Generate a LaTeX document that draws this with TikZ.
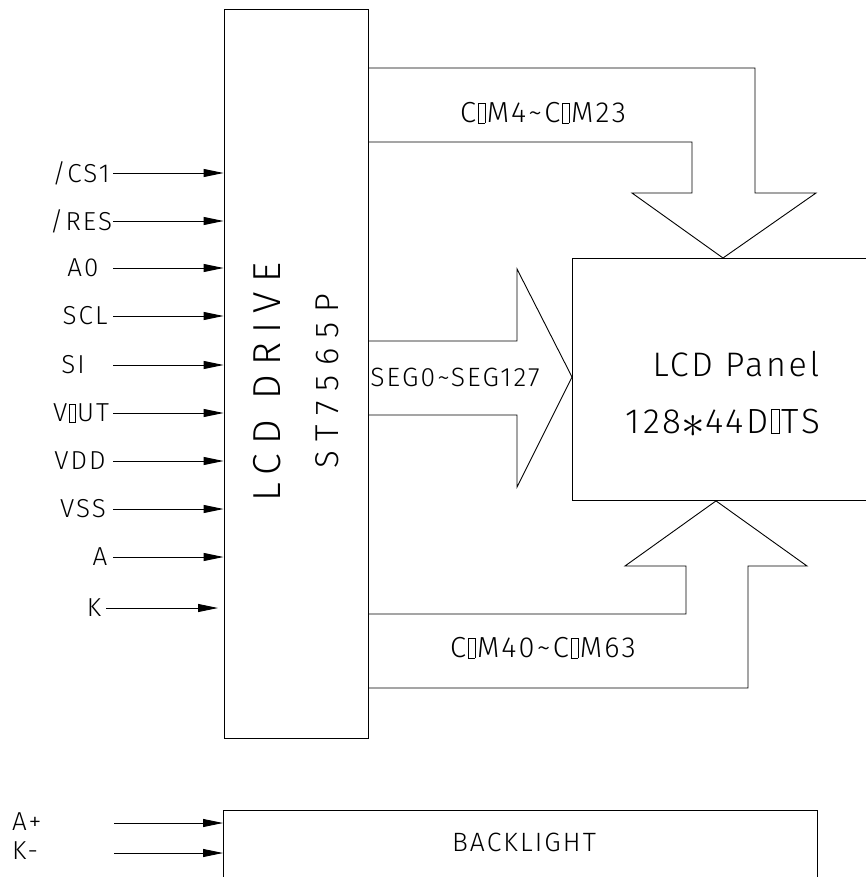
\documentclass[tikz,border=0pt]{standalone}
\usepackage{fontspec}
\usepackage{graphicx}
\setmainfont{Fira Sans}[UprightFont=* Light, LetterSpace=8]
\usetikzlibrary{arrows.meta}
\newcommand\qb{\kern0.06em{\fboxsep0pt\fboxrule0.5pt\fbox{\rule{0pt}{0.67em}\hspace{0.22em}}}\kern0.06em}
\newcommand\fs[1]{\fontsize{#1}{#1}\selectfont}
\newcommand\bigast{\raisebox{-0.12em}{\scalebox{1.9}{$\ast$}}}
\tikzset{
  ln/.style={line width=0.9pt},
  boxed/.style={draw, line width=0.9pt, inner sep=0pt},
  txt/.style={inner sep=0pt, anchor=center},
  pinlbl/.style={txt, font=\fs{26}},
  buslbl/.style={txt, font=\fs{29}},
  pin/.style={line width=0.9pt, -{Triangle[length=20pt,width=8pt]}},
}
\begin{document}
\begin{tikzpicture}[x=1pt, y=-1pt]
\useasboundingbox (0,0) rectangle (866,877);
\clip (0,0) rectangle (866,877);
\fill[white] (0,0) rectangle (866,877);
% blocks
\node[boxed, minimum width=144pt, minimum height=729pt] (drv) at (296,373.5) {};
\node[boxed, anchor=north west, minimum width=400pt, minimum height=242pt] (pnl) at (572,258) {};
\node[boxed, anchor=north west, minimum width=594pt, minimum height=120pt] (bl) at (223,810) {};
% driver text
\node[txt, rotate=90, font=\fs{39}\addfontfeatures{LetterSpace=24}] (drvt1) at (267,382) {LCD DRIVE};
\node[txt, rotate=90, font=\fs{33}\addfontfeatures{LetterSpace=30}] (drvt2) at (327,381.5) {ST7565P};
% panel text
\node[txt, font=\fs{34}] (pnt1) at (736,364) {LCD Panel};
\node[txt, font=\fs{35}] (pnt2) at (723,423) {128\bigast 44D\qb TS};
% backlight text
\node[txt, font=\fs{26.5}] (blt) at (524,842) {BACKLIGHT};
% pins
\foreach \n/\t/\lx/\yy in {p1/{/CS1}/81/173, p2/{/RES}/81/221, p3/A0/83/268, p4/SCL/85/316, p5/SI/73/365, p6/{V\qb UT}/81/413, p7/VDD/80/461, p8/VSS/83/509, p9/A/100/557}{
  \node[pinlbl] (\n l) at (\lx,\yy) {\t};
  \coordinate (\n s) at (113,\yy);
  \draw[pin] (\n s) -- (\n s -| drv.west);
}
\node[pinlbl] (p10l) at (94,608) {K};
\coordinate (p10s) at (106,608);
\coordinate (p10e) at (218,608);
\draw[pin] (p10s) -- (p10e);
% backlight pins
\node[pinlbl, anchor=west] (bap) at (12,822) {A+};
\node[pinlbl, anchor=west] (bkm) at (12,851) {K-};
\coordinate (bas) at (114,823);
\coordinate (bks) at (114,853);
\draw[pin] (bas) -- (bas -| bl.west);
\draw[pin] (bks) -- (bks -| bl.west);
% top bus COM4~COM23
\draw[ln] (drv.east |- 0,68) -- (755,68) -- (755,193) -- (816,193) -- (pnl.north -| 723,0) -- (632,193) -- (692,193) -- (692,142) -- (drv.east |- 0,142);
\node[buslbl] (c1) at (543,113) {C\qb M4\textasciitilde C\qb M23};
% SEG bus
\draw[ln] (drv.east |- 0,341) -- (517,341) -- (517,269) -- (pnl.west |- 0,377) -- (517,487) -- (517,415) -- (drv.east |- 0,415);
\node[buslbl, font=\fs{26.5}] (s1) at (455,377) {SEG0\textasciitilde SEG127};
% bottom bus COM40~COM63
\draw[ln] (drv.east |- 0,614) -- (686,614) -- (686,566) -- (625,566) -- (pnl.south -| 716,0) -- (807,566) -- (748,566) -- (748,688) -- (drv.east |- 0,688);
\node[buslbl] (c2) at (543,648) {C\qb M40\textasciitilde C\qb M63};
\end{tikzpicture}
\end{document}
